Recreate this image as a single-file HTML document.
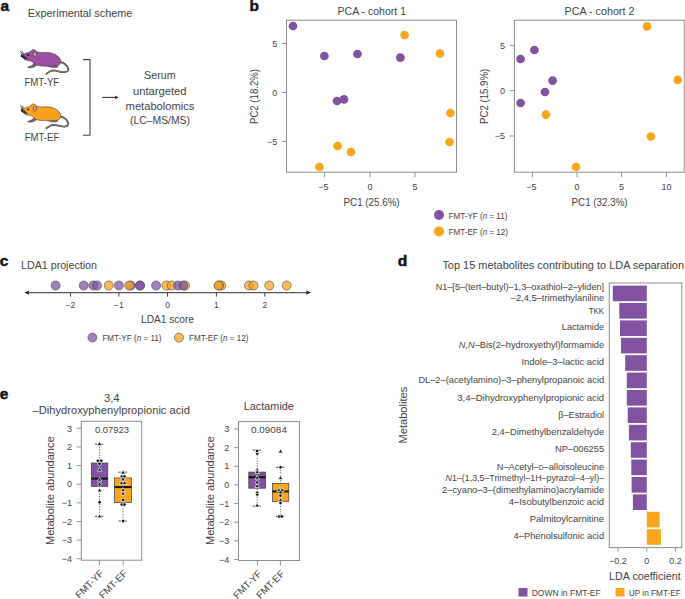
<!DOCTYPE html>
<html><head><meta charset="utf-8"><style>
html,body{margin:0;padding:0;background:#fff;}
body{width:685px;height:599px;overflow:hidden;}
svg{display:block;font-family:"Liberation Sans", sans-serif;}
</style></head><body>
<svg width="685" height="599" viewBox="0 0 685 599">
<text x="0.4" y="11" font-size="15.5" text-anchor="start" fill="#111" font-weight="bold" stroke="#111" stroke-width="0.45">a</text>
<text x="249.6" y="11" font-size="15.5" text-anchor="start" fill="#111" font-weight="bold" stroke="#111" stroke-width="0.45">b</text>
<text x="-0.3" y="265.8" font-size="15.5" text-anchor="start" fill="#111" font-weight="bold" stroke="#111" stroke-width="0.45">c</text>
<text x="397.8" y="266" font-size="15.5" text-anchor="start" fill="#111" font-weight="bold" stroke="#111" stroke-width="0.45">d</text>
<text x="-0.2" y="398.6" font-size="15.5" text-anchor="start" fill="#111" font-weight="bold" stroke="#111" stroke-width="0.45">e</text>
<text x="27.80" y="17.1" font-size="10.6" fill="#444444" textLength="104.61" lengthAdjust="spacingAndGlyphs" >Experimental scheme</text>
<g transform="translate(0,0)"><path d="M60.4,62.2 C63.5,62.8 66.8,65 68.1,68.2 C68.8,70.6 67.4,72 64.8,72.2 C61,72.4 57,70.6 53.5,70.4 C50.5,70.5 48.2,72.4 46.4,73.9" fill="none" stroke="#4a3f3b" stroke-width="1.8" stroke-linecap="round"/><path d="M60.4,62.2 C63.5,62.8 66.8,65 68.1,68.2 C68.8,70.6 67.4,72 64.8,72.2 C61,72.4 57,70.6 53.5,70.4 C50.5,70.5 48.2,72.4 46.4,73.9" fill="none" stroke="#8f807a" stroke-width="0.9" stroke-linecap="round"/><path d="M47.8,65.9 C50,67.4 53.5,68 57.6,67.2 L57.8,65.8 C54.5,66.6 51,66.6 47.8,65.9 Z" fill="#8f7f78" stroke="#2a2a2a" stroke-width="0.45"/><path d="M33.8,63.2 C33.2,64.8 31.6,65.9 29.6,66.3 L27.6,67.2 C29.8,68.3 33,67.8 35.2,66.4 L36.4,64.6 Z" fill="#76665f" stroke="#2a2a2a" stroke-width="0.45"/><path d="M21.3,55.4 C23,54.2 25.5,53.1 28.5,52.5 C30,51.8 31.3,50.4 32.6,49.7 C34.1,49.3 35.6,49.9 36.0,51.3 C37.5,52.4 40.5,52.6 44,52.5 C48,52.2 52,52.6 55.5,54.6 C58.6,56.4 60.8,58.6 60.9,61.4 C60.8,63.8 59,65.6 56,65.9 C52.5,66.4 48.5,66.5 44.5,66.2 C40.5,66.1 37,65.7 35,64.6 C33.6,62.6 32,61.2 29.6,60.7 C27,60.3 24.6,59.1 23,57.8 C21.9,57 21.2,56.3 21.3,55.4 Z" fill="#9b4ea2" stroke="#2a2a2a" stroke-width="0.5"/><path d="M33.3,53.2 C33.5,52.2 35.2,51.9 36.2,52.6 C36.8,53.6 36.6,55.6 35.6,56.5 C34.6,56.9 33.6,56.4 33.3,55.2 Z" fill="#c9a793" stroke="#3a2a2a" stroke-width="0.5"/><path d="M21,55 C22.2,54.6 24,55.4 25.8,57 C27.2,58.2 27.8,59.6 26.8,60 C25,59.7 23.4,58.7 22.4,57.8 C21.4,57.1 20.8,56.2 21,55 Z" fill="#2a1d26" opacity="0.8"/><circle cx="21.6" cy="56" r="0.9" fill="#111"/><circle cx="28.2" cy="55" r="0.95" fill="#111"/><path d="M22.8,54.6 L20.5,51.0 M23.3,54.4 L22.7,51.4 M22.2,55.0 L20.6,53.8" stroke="#2a2a2a" stroke-width="0.75" fill="none"/><path d="M24.5,59.2 L24.2,61 M26.3,60 L26.4,61.6 M28.2,60.6 L28.6,61.8" stroke="#555" stroke-width="0.4" fill="none"/></g>
<g transform="translate(0,54.4)"><path d="M60.4,62.2 C63.5,62.8 66.8,65 68.1,68.2 C68.8,70.6 67.4,72 64.8,72.2 C61,72.4 57,70.6 53.5,70.4 C50.5,70.5 48.2,72.4 46.4,73.9" fill="none" stroke="#4a3f3b" stroke-width="1.8" stroke-linecap="round"/><path d="M60.4,62.2 C63.5,62.8 66.8,65 68.1,68.2 C68.8,70.6 67.4,72 64.8,72.2 C61,72.4 57,70.6 53.5,70.4 C50.5,70.5 48.2,72.4 46.4,73.9" fill="none" stroke="#8f807a" stroke-width="0.9" stroke-linecap="round"/><path d="M47.8,65.9 C50,67.4 53.5,68 57.6,67.2 L57.8,65.8 C54.5,66.6 51,66.6 47.8,65.9 Z" fill="#8f7f78" stroke="#2a2a2a" stroke-width="0.45"/><path d="M33.8,63.2 C33.2,64.8 31.6,65.9 29.6,66.3 L27.6,67.2 C29.8,68.3 33,67.8 35.2,66.4 L36.4,64.6 Z" fill="#76665f" stroke="#2a2a2a" stroke-width="0.45"/><path d="M21.3,55.4 C23,54.2 25.5,53.1 28.5,52.5 C30,51.8 31.3,50.4 32.6,49.7 C34.1,49.3 35.6,49.9 36.0,51.3 C37.5,52.4 40.5,52.6 44,52.5 C48,52.2 52,52.6 55.5,54.6 C58.6,56.4 60.8,58.6 60.9,61.4 C60.8,63.8 59,65.6 56,65.9 C52.5,66.4 48.5,66.5 44.5,66.2 C40.5,66.1 37,65.7 35,64.6 C33.6,62.6 32,61.2 29.6,60.7 C27,60.3 24.6,59.1 23,57.8 C21.9,57 21.2,56.3 21.3,55.4 Z" fill="#f7a11f" stroke="#2a2a2a" stroke-width="0.5"/><path d="M33.3,53.2 C33.5,52.2 35.2,51.9 36.2,52.6 C36.8,53.6 36.6,55.6 35.6,56.5 C34.6,56.9 33.6,56.4 33.3,55.2 Z" fill="#c9a29a" stroke="#3a2a2a" stroke-width="0.5"/><path d="M21,55 C22.2,54.6 24,55.4 25.8,57 C27.2,58.2 27.8,59.6 26.8,60 C25,59.7 23.4,58.7 22.4,57.8 C21.4,57.1 20.8,56.2 21,55 Z" fill="#2a1d26" opacity="0.8"/><circle cx="21.6" cy="56" r="0.9" fill="#111"/><circle cx="28.2" cy="55" r="0.95" fill="#111"/><path d="M22.8,54.6 L20.5,51.0 M23.3,54.4 L22.7,51.4 M22.2,55.0 L20.6,53.8" stroke="#2a2a2a" stroke-width="0.75" fill="none"/><path d="M24.5,59.2 L24.2,61 M26.3,60 L26.4,61.6 M28.2,60.6 L28.6,61.8" stroke="#555" stroke-width="0.4" fill="none"/></g>
<text x="24.40" y="86.4" font-size="10.2" fill="#444444" textLength="34.81" lengthAdjust="spacingAndGlyphs" >FMT-YF</text>
<text x="24.80" y="140.7" font-size="10.2" fill="#444444" textLength="34.41" lengthAdjust="spacingAndGlyphs" >FMT-EF</text>
<path d="M83,59.6 H90.0 V135.2 H83" fill="none" stroke="#444" stroke-width="1.1" stroke-linejoin="round"/>
<line x1="102.4" y1="97.4" x2="116" y2="97.4" stroke="#222" stroke-width="1" />
<path d="M118.8,97.4 L114.6,95.5 L115.6,97.4 L114.6,99.3 Z" fill="#222"/>
<text x="144.00" y="79.4" font-size="10.6" fill="#444444" textLength="31.61" lengthAdjust="spacingAndGlyphs" >Serum</text>
<text x="133.00" y="94.6" font-size="10.6" fill="#444444" textLength="53.42" lengthAdjust="spacingAndGlyphs" >untargeted</text>
<text x="125.60" y="110" font-size="10.6" fill="#444444" textLength="68.79" lengthAdjust="spacingAndGlyphs" >metabolomics</text>
<text x="130.00" y="124.3" font-size="10.6" fill="#444444" textLength="59.99" lengthAdjust="spacingAndGlyphs" >(LC–MS/MS)</text>
<rect x="286.5" y="20.2" width="170.0" height="152.0" fill="none" stroke="#8c8c8c" stroke-width="1" />
<text x="337.60" y="15.3" font-size="10.6" fill="#444444" textLength="68.38" lengthAdjust="spacingAndGlyphs" >PCA - cohort 1</text>
<line x1="281.9" y1="43.4" x2="286.5" y2="43.4" stroke="#939393" stroke-width="1" />
<text x="277.2" y="46.8" font-size="9" text-anchor="end" fill="#444444" >5</text>
<line x1="281.9" y1="92.4" x2="286.5" y2="92.4" stroke="#939393" stroke-width="1" />
<text x="277.2" y="95.80000000000001" font-size="9" text-anchor="end" fill="#444444" >0</text>
<line x1="281.9" y1="141.4" x2="286.5" y2="141.4" stroke="#939393" stroke-width="1" />
<text x="277.2" y="144.8" font-size="9" text-anchor="end" fill="#444444" >−5</text>
<line x1="324.4" y1="172.2" x2="324.4" y2="177.2" stroke="#939393" stroke-width="1" />
<text x="323.4" y="189.5" font-size="9" text-anchor="middle" fill="#444444" >−5</text>
<line x1="370" y1="172.2" x2="370" y2="177.2" stroke="#939393" stroke-width="1" />
<text x="370" y="189.5" font-size="9" text-anchor="middle" fill="#444444" >0</text>
<line x1="415" y1="172.2" x2="415" y2="177.2" stroke="#939393" stroke-width="1" />
<text x="415" y="189.5" font-size="9" text-anchor="middle" fill="#444444" >5</text>
<text x="343.60" y="205.7" font-size="10" fill="#444444" textLength="56.00" lengthAdjust="spacingAndGlyphs" >PC1 (25.6%)</text>
<text x="-0.00" y="0" font-size="10" fill="#444444" textLength="55.00" lengthAdjust="spacingAndGlyphs" transform="translate(258.3,124) rotate(-90)">PC2 (18.2%)</text>
<circle cx="293" cy="26" r="4.35" fill="#8052a0" stroke="none" stroke-width="0" />
<circle cx="324.4" cy="56" r="4.35" fill="#8052a0" stroke="none" stroke-width="0" />
<circle cx="357.5" cy="54" r="4.35" fill="#8052a0" stroke="none" stroke-width="0" />
<circle cx="400.4" cy="57.6" r="4.35" fill="#8052a0" stroke="none" stroke-width="0" />
<circle cx="337" cy="101" r="4.35" fill="#8052a0" stroke="none" stroke-width="0" />
<circle cx="344" cy="99.4" r="4.35" fill="#8052a0" stroke="none" stroke-width="0" />
<circle cx="404.6" cy="35" r="4.35" fill="#faa51b" stroke="none" stroke-width="0" />
<circle cx="440" cy="53.6" r="4.35" fill="#faa51b" stroke="none" stroke-width="0" />
<circle cx="450.4" cy="113" r="4.35" fill="#faa51b" stroke="none" stroke-width="0" />
<circle cx="449.6" cy="142" r="4.35" fill="#faa51b" stroke="none" stroke-width="0" />
<circle cx="337.6" cy="146" r="4.35" fill="#faa51b" stroke="none" stroke-width="0" />
<circle cx="351" cy="152" r="4.35" fill="#faa51b" stroke="none" stroke-width="0" />
<circle cx="319.4" cy="167" r="4.35" fill="#faa51b" stroke="none" stroke-width="0" />
<rect x="514.4" y="20.2" width="169.89999999999998" height="152.0" fill="none" stroke="#8c8c8c" stroke-width="1" />
<text x="564.60" y="15.3" font-size="10.6" fill="#444444" textLength="69.78" lengthAdjust="spacingAndGlyphs" >PCA - cohort 2</text>
<line x1="509.79999999999995" y1="45.6" x2="514.4" y2="45.6" stroke="#939393" stroke-width="1" />
<text x="505.09999999999997" y="49.0" font-size="9" text-anchor="end" fill="#444444" >5</text>
<line x1="509.79999999999995" y1="90.6" x2="514.4" y2="90.6" stroke="#939393" stroke-width="1" />
<text x="505.09999999999997" y="94.0" font-size="9" text-anchor="end" fill="#444444" >0</text>
<line x1="509.79999999999995" y1="136" x2="514.4" y2="136" stroke="#939393" stroke-width="1" />
<text x="505.09999999999997" y="139.4" font-size="9" text-anchor="end" fill="#444444" >−5</text>
<line x1="532.4" y1="172.2" x2="532.4" y2="177.2" stroke="#939393" stroke-width="1" />
<text x="531.4" y="189.5" font-size="9" text-anchor="middle" fill="#444444" >−5</text>
<line x1="577" y1="172.2" x2="577" y2="177.2" stroke="#939393" stroke-width="1" />
<text x="577" y="189.5" font-size="9" text-anchor="middle" fill="#444444" >0</text>
<line x1="621.6" y1="172.2" x2="621.6" y2="177.2" stroke="#939393" stroke-width="1" />
<text x="621.6" y="189.5" font-size="9" text-anchor="middle" fill="#444444" >5</text>
<line x1="666.4" y1="172.2" x2="666.4" y2="177.2" stroke="#939393" stroke-width="1" />
<text x="666.4" y="189.5" font-size="9" text-anchor="middle" fill="#444444" >10</text>
<text x="571.60" y="205.7" font-size="10" fill="#444444" textLength="56.00" lengthAdjust="spacingAndGlyphs" >PC1 (32.3%)</text>
<text x="-0.00" y="0" font-size="10" fill="#444444" textLength="55.30" lengthAdjust="spacingAndGlyphs" transform="translate(488.3,124) rotate(-90)">PC2 (15.9%)</text>
<circle cx="534.4" cy="50" r="4.35" fill="#8052a0" stroke="none" stroke-width="0" />
<circle cx="520.6" cy="59" r="4.35" fill="#8052a0" stroke="none" stroke-width="0" />
<circle cx="552.6" cy="80.6" r="4.35" fill="#8052a0" stroke="none" stroke-width="0" />
<circle cx="545" cy="92" r="4.35" fill="#8052a0" stroke="none" stroke-width="0" />
<circle cx="520.6" cy="103" r="4.35" fill="#8052a0" stroke="none" stroke-width="0" />
<circle cx="647" cy="26.4" r="4.35" fill="#faa51b" stroke="none" stroke-width="0" />
<circle cx="677.8" cy="79.9" r="4.35" fill="#faa51b" stroke="none" stroke-width="0" />
<circle cx="546" cy="114.6" r="4.35" fill="#faa51b" stroke="none" stroke-width="0" />
<circle cx="650.9" cy="136.5" r="4.35" fill="#faa51b" stroke="none" stroke-width="0" />
<circle cx="576" cy="167" r="4.35" fill="#faa51b" stroke="none" stroke-width="0" />
<circle cx="439" cy="215" r="5" fill="#8052a0" stroke="none" stroke-width="0" />
<circle cx="439" cy="231.4" r="5" fill="#faa51b" stroke="none" stroke-width="0" />
<text x="448.60" y="218.6" font-size="8.8" fill="#444444" textLength="58.79" lengthAdjust="spacingAndGlyphs" >FMT-YF (<tspan font-style="italic">n</tspan> = 11)</text>
<text x="448.60" y="235" font-size="8.8" fill="#444444" textLength="59.38" lengthAdjust="spacingAndGlyphs" >FMT-EF (<tspan font-style="italic">n</tspan> = 12)</text>
<text x="21.00" y="269.4" font-size="10.6" fill="#444444" textLength="76.01" lengthAdjust="spacingAndGlyphs" >LDA1 projection</text>
<line x1="26" y1="292.6" x2="308.5" y2="292.6" stroke="#555" stroke-width="1.1" />
<path d="M24.3,292.6 L29.3,290.5 L28.4,292.6 L29.3,294.7 Z" fill="#1e1e1e"/>
<path d="M311,292.6 L306,290.5 L306.9,292.6 L306,294.7 Z" fill="#1e1e1e"/>
<line x1="70.5" y1="292.6" x2="70.5" y2="296.6" stroke="#444" stroke-width="1" />
<text x="70.5" y="307.6" font-size="8.4" text-anchor="middle" fill="#444444" >−2</text>
<line x1="118.9" y1="292.6" x2="118.9" y2="296.6" stroke="#444" stroke-width="1" />
<text x="118.9" y="307.6" font-size="8.4" text-anchor="middle" fill="#444444" >−1</text>
<line x1="167.5" y1="292.6" x2="167.5" y2="296.6" stroke="#444" stroke-width="1" />
<text x="167.5" y="307.6" font-size="8.4" text-anchor="middle" fill="#444444" >0</text>
<line x1="216.4" y1="292.6" x2="216.4" y2="296.6" stroke="#444" stroke-width="1" />
<text x="216.4" y="307.6" font-size="8.4" text-anchor="middle" fill="#444444" >1</text>
<line x1="264.8" y1="292.6" x2="264.8" y2="296.6" stroke="#444" stroke-width="1" />
<text x="264.8" y="307.6" font-size="8.4" text-anchor="middle" fill="#444444" >2</text>
<text x="141.00" y="323" font-size="10.4" fill="#444444" textLength="53.00" lengthAdjust="spacingAndGlyphs" >LDA1 score</text>
<circle cx="55.6" cy="285.5" r="4.5" fill="rgba(126,79,159,0.72)" stroke="rgba(70,70,70,0.85)" stroke-width="0.7" />
<circle cx="83.7" cy="285.5" r="4.5" fill="rgba(126,79,159,0.72)" stroke="rgba(70,70,70,0.85)" stroke-width="0.7" />
<circle cx="93.4" cy="285.5" r="4.5" fill="rgba(126,79,159,0.72)" stroke="rgba(70,70,70,0.85)" stroke-width="0.7" />
<circle cx="97" cy="285.5" r="4.5" fill="rgba(126,79,159,0.72)" stroke="rgba(70,70,70,0.85)" stroke-width="0.7" />
<circle cx="108.7" cy="285.5" r="4.5" fill="rgba(248,162,28,0.72)" stroke="rgba(70,70,70,0.85)" stroke-width="0.7" />
<circle cx="118.9" cy="285.5" r="4.5" fill="rgba(126,79,159,0.72)" stroke="rgba(70,70,70,0.85)" stroke-width="0.7" />
<circle cx="130.7" cy="285.5" r="4.5" fill="rgba(126,79,159,0.72)" stroke="rgba(70,70,70,0.85)" stroke-width="0.7" />
<circle cx="129.2" cy="285.5" r="4.5" fill="rgba(248,162,28,0.72)" stroke="rgba(70,70,70,0.85)" stroke-width="0.7" />
<circle cx="139.9" cy="285.5" r="4.5" fill="rgba(126,79,159,0.72)" stroke="rgba(70,70,70,0.85)" stroke-width="0.7" />
<circle cx="140.1" cy="285.5" r="4.5" fill="rgba(126,79,159,0.72)" stroke="rgba(70,70,70,0.85)" stroke-width="0.7" />
<circle cx="156.1" cy="285.5" r="4.5" fill="rgba(126,79,159,0.72)" stroke="rgba(70,70,70,0.85)" stroke-width="0.7" />
<circle cx="166.4" cy="285.5" r="4.5" fill="rgba(248,162,28,0.72)" stroke="rgba(70,70,70,0.85)" stroke-width="0.7" />
<circle cx="171.6" cy="285.5" r="4.5" fill="rgba(248,162,28,0.72)" stroke="rgba(70,70,70,0.85)" stroke-width="0.7" />
<circle cx="178" cy="285.5" r="4.5" fill="rgba(126,79,159,0.72)" stroke="rgba(70,70,70,0.85)" stroke-width="0.7" />
<circle cx="185" cy="285.5" r="4.5" fill="rgba(248,162,28,0.72)" stroke="rgba(70,70,70,0.85)" stroke-width="0.7" />
<circle cx="183.3" cy="285.5" r="4.5" fill="rgba(126,79,159,0.72)" stroke="rgba(70,70,70,0.85)" stroke-width="0.7" />
<circle cx="221.2" cy="285.5" r="4.5" fill="rgba(248,162,28,0.72)" stroke="rgba(70,70,70,0.85)" stroke-width="0.7" />
<circle cx="218.9" cy="285.5" r="4.5" fill="rgba(248,162,28,0.72)" stroke="rgba(70,70,70,0.85)" stroke-width="0.7" />
<circle cx="218.6" cy="285.5" r="4.5" fill="rgba(248,162,28,0.72)" stroke="rgba(70,70,70,0.85)" stroke-width="0.7" />
<circle cx="249" cy="285.5" r="4.5" fill="rgba(248,162,28,0.72)" stroke="rgba(70,70,70,0.85)" stroke-width="0.7" />
<circle cx="253.5" cy="285.5" r="4.5" fill="rgba(248,162,28,0.72)" stroke="rgba(70,70,70,0.85)" stroke-width="0.7" />
<circle cx="269.3" cy="285.5" r="4.5" fill="rgba(248,162,28,0.72)" stroke="rgba(70,70,70,0.85)" stroke-width="0.7" />
<circle cx="286.7" cy="285.5" r="4.5" fill="rgba(248,162,28,0.72)" stroke="rgba(70,70,70,0.85)" stroke-width="0.7" />
<circle cx="92.4" cy="337.6" r="4.5" fill="rgba(126,79,159,0.72)" stroke="rgba(70,70,70,0.85)" stroke-width="0.7" />
<circle cx="179" cy="337.6" r="4.5" fill="rgba(248,162,28,0.72)" stroke="rgba(70,70,70,0.85)" stroke-width="0.7" />
<text x="102.40" y="341" font-size="8.8" fill="#444444" textLength="59.19" lengthAdjust="spacingAndGlyphs" >FMT-YF (<tspan font-style="italic">n</tspan> = 11)</text>
<text x="189.00" y="341" font-size="8.8" fill="#444444" textLength="59.38" lengthAdjust="spacingAndGlyphs" >FMT-EF (<tspan font-style="italic">n</tspan> = 12)</text>
<text x="104.00" y="401.6" font-size="10.8" fill="#444444" textLength="15.60" lengthAdjust="spacingAndGlyphs" >3,4</text>
<text x="32.60" y="413.6" font-size="10.8" fill="#444444" textLength="157.40" lengthAdjust="spacingAndGlyphs" >–Dihydroxyphenylpropionic acid</text>
<rect x="81.3" y="421.3" width="60.39999999999999" height="138.90000000000003" fill="none" stroke="#8c8c8c" stroke-width="1" />
<line x1="76.8" y1="428.3" x2="81.3" y2="428.3" stroke="#939393" stroke-width="1" />
<text x="72.1" y="431.5" font-size="9" text-anchor="end" fill="#444444" >3</text>
<line x1="76.8" y1="446.94" x2="81.3" y2="446.94" stroke="#939393" stroke-width="1" />
<text x="72.1" y="450.14" font-size="9" text-anchor="end" fill="#444444" >2</text>
<line x1="76.8" y1="465.58000000000004" x2="81.3" y2="465.58000000000004" stroke="#939393" stroke-width="1" />
<text x="72.1" y="468.78000000000003" font-size="9" text-anchor="end" fill="#444444" >1</text>
<line x1="76.8" y1="484.22" x2="81.3" y2="484.22" stroke="#939393" stroke-width="1" />
<text x="72.1" y="487.42" font-size="9" text-anchor="end" fill="#444444" >0</text>
<line x1="76.8" y1="502.86" x2="81.3" y2="502.86" stroke="#939393" stroke-width="1" />
<text x="72.1" y="506.06" font-size="9" text-anchor="end" fill="#444444" >−1</text>
<line x1="76.8" y1="521.5" x2="81.3" y2="521.5" stroke="#939393" stroke-width="1" />
<text x="72.1" y="524.7" font-size="9" text-anchor="end" fill="#444444" >−2</text>
<line x1="76.8" y1="540.14" x2="81.3" y2="540.14" stroke="#939393" stroke-width="1" />
<text x="72.1" y="543.34" font-size="9" text-anchor="end" fill="#444444" >−3</text>
<line x1="76.8" y1="558.78" x2="81.3" y2="558.78" stroke="#939393" stroke-width="1" />
<text x="72.1" y="561.98" font-size="9" text-anchor="end" fill="#444444" >−4</text>
<text x="95.00" y="433.3" font-size="9.6" fill="#444444" textLength="34.00" lengthAdjust="spacingAndGlyphs" >0.07923</text>
<text x="-0.00" y="0" font-size="10.8" fill="#444444" textLength="108.61" lengthAdjust="spacingAndGlyphs" transform="translate(54.3,545) rotate(-90)">Metabolite abundance</text>
<line x1="99.55" y1="444.2" x2="99.55" y2="516.3" stroke="#222" stroke-width="0.8" stroke-dasharray="1,1.6"/>
<line x1="95.05" y1="444.2" x2="104.05" y2="444.2" stroke="#222" stroke-width="0.85" stroke-dasharray="2.2,0.8"/>
<line x1="95.05" y1="516.3" x2="104.05" y2="516.3" stroke="#222" stroke-width="0.85" stroke-dasharray="2.2,0.8"/>
<rect x="91.3" y="463" width="16.5" height="23.399999999999977" fill="#8052a0" stroke="#3a3a3a" stroke-width="0.7" />
<line x1="91.3" y1="478.6" x2="107.8" y2="478.6" stroke="#111" stroke-width="2" />
<line x1="123.0" y1="472.2" x2="123.0" y2="521" stroke="#222" stroke-width="0.8" stroke-dasharray="1,1.6"/>
<line x1="118.5" y1="472.2" x2="127.5" y2="472.2" stroke="#222" stroke-width="0.85" stroke-dasharray="2.2,0.8"/>
<line x1="118.5" y1="521" x2="127.5" y2="521" stroke="#222" stroke-width="0.85" stroke-dasharray="2.2,0.8"/>
<rect x="114.6" y="477.9" width="16.80000000000001" height="24.600000000000023" fill="#faa51b" stroke="#3a3a3a" stroke-width="0.7" />
<line x1="114.6" y1="487.1" x2="131.4" y2="487.1" stroke="#111" stroke-width="2" />
<path d="M99.5,441.5 L101.8,445.40000000000003 L97.2,445.40000000000003 Z" fill="#111" stroke="#fff" stroke-width="0.7"/>
<circle cx="97.9" cy="460.8" r="1.75" fill="#111" stroke="#fff" stroke-width="0.7" />
<circle cx="101.2" cy="460.8" r="1.75" fill="#111" stroke="#fff" stroke-width="0.7" />
<circle cx="99.6" cy="463.8" r="1.75" fill="#111" stroke="#fff" stroke-width="0.7" />
<path d="M99.6,467.3 L101.89999999999999,471.20000000000005 L97.3,471.20000000000005 Z" fill="#111" stroke="#fff" stroke-width="0.7"/>
<path d="M99.6,477.3 L101.89999999999999,481.20000000000005 L97.3,481.20000000000005 Z" fill="#111" stroke="#fff" stroke-width="0.7"/>
<circle cx="99.6" cy="484.5" r="1.75" fill="#111" stroke="#fff" stroke-width="0.7" />
<path d="M99.6,488.0 L101.89999999999999,491.90000000000003 L97.3,491.90000000000003 Z" fill="#111" stroke="#fff" stroke-width="0.7"/>
<circle cx="99.6" cy="502.2" r="1.75" fill="#111" stroke="#fff" stroke-width="0.7" />
<path d="M99.6,513.9000000000001 L101.89999999999999,517.8000000000001 L97.3,517.8000000000001 Z" fill="#111" stroke="#fff" stroke-width="0.7"/>
<path d="M123.1,470.09999999999997 L125.39999999999999,474.0 L120.8,474.0 Z" fill="#111" stroke="#fff" stroke-width="0.7"/>
<circle cx="121.9" cy="476.5" r="1.75" fill="#111" stroke="#fff" stroke-width="0.7" />
<circle cx="124.5" cy="476.5" r="1.75" fill="#111" stroke="#fff" stroke-width="0.7" />
<path d="M123.1,482.0 L125.39999999999999,478.09999999999997 L120.8,478.09999999999997 Z" fill="#111" stroke="#fff" stroke-width="0.7"/>
<path d="M121.6,480.59999999999997 L123.89999999999999,484.5 L119.3,484.5 Z" fill="#111" stroke="#fff" stroke-width="0.7"/>
<path d="M124.6,480.59999999999997 L126.89999999999999,484.5 L122.3,484.5 Z" fill="#111" stroke="#fff" stroke-width="0.7"/>
<path d="M123.1,487.7 L125.39999999999999,491.6 L120.8,491.6 Z" fill="#111" stroke="#fff" stroke-width="0.7"/>
<path d="M123.1,491.09999999999997 L125.39999999999999,495.0 L120.8,495.0 Z" fill="#111" stroke="#fff" stroke-width="0.7"/>
<circle cx="123.1" cy="499.9" r="1.75" fill="#111" stroke="#fff" stroke-width="0.7" />
<circle cx="121.9" cy="504.5" r="1.75" fill="#111" stroke="#fff" stroke-width="0.7" />
<circle cx="124.5" cy="504.5" r="1.75" fill="#111" stroke="#fff" stroke-width="0.7" />
<circle cx="123.1" cy="521" r="1.75" fill="#111" stroke="#fff" stroke-width="0.7" />
<line x1="99.4" y1="560.2" x2="99.4" y2="565.2" stroke="#939393" stroke-width="1" />
<text x="0" y="0" font-size="9.8" text-anchor="end" fill="#444444" transform="translate(104.2,574.0) rotate(-45)">FMT-YF</text>
<line x1="123.2" y1="560.2" x2="123.2" y2="565.2" stroke="#939393" stroke-width="1" />
<text x="0" y="0" font-size="9.8" text-anchor="end" fill="#444444" transform="translate(128.0,574.0) rotate(-45)">FMT-EF</text>
<text x="243.80" y="410" font-size="10.6" fill="#444444" textLength="50.09" lengthAdjust="spacingAndGlyphs" >Lactamide</text>
<rect x="238.5" y="421.6" width="60.89999999999998" height="138.89999999999998" fill="none" stroke="#8c8c8c" stroke-width="1" />
<line x1="234.0" y1="429.0" x2="238.5" y2="429.0" stroke="#939393" stroke-width="1" />
<text x="229.3" y="432.2" font-size="9" text-anchor="end" fill="#444444" >3</text>
<line x1="234.0" y1="447.64" x2="238.5" y2="447.64" stroke="#939393" stroke-width="1" />
<text x="229.3" y="450.84" font-size="9" text-anchor="end" fill="#444444" >2</text>
<line x1="234.0" y1="466.28" x2="238.5" y2="466.28" stroke="#939393" stroke-width="1" />
<text x="229.3" y="469.47999999999996" font-size="9" text-anchor="end" fill="#444444" >1</text>
<line x1="234.0" y1="484.92" x2="238.5" y2="484.92" stroke="#939393" stroke-width="1" />
<text x="229.3" y="488.12" font-size="9" text-anchor="end" fill="#444444" >0</text>
<line x1="234.0" y1="503.56" x2="238.5" y2="503.56" stroke="#939393" stroke-width="1" />
<text x="229.3" y="506.76" font-size="9" text-anchor="end" fill="#444444" >−1</text>
<line x1="234.0" y1="522.2" x2="238.5" y2="522.2" stroke="#939393" stroke-width="1" />
<text x="229.3" y="525.4000000000001" font-size="9" text-anchor="end" fill="#444444" >−2</text>
<line x1="234.0" y1="540.84" x2="238.5" y2="540.84" stroke="#939393" stroke-width="1" />
<text x="229.3" y="544.0400000000001" font-size="9" text-anchor="end" fill="#444444" >−3</text>
<line x1="234.0" y1="559.48" x2="238.5" y2="559.48" stroke="#939393" stroke-width="1" />
<text x="229.3" y="562.6800000000001" font-size="9" text-anchor="end" fill="#444444" >−4</text>
<text x="251.10" y="433.3" font-size="9.6" fill="#444444" textLength="35.80" lengthAdjust="spacingAndGlyphs" >0.09084</text>
<text x="-0.00" y="0" font-size="10.8" fill="#444444" textLength="108.61" lengthAdjust="spacingAndGlyphs" transform="translate(213.6,545) rotate(-90)">Metabolite abundance</text>
<line x1="257.20000000000005" y1="450.1" x2="257.20000000000005" y2="506.2" stroke="#222" stroke-width="0.8" stroke-dasharray="1,1.6"/>
<line x1="252.70000000000005" y1="450.1" x2="261.70000000000005" y2="450.1" stroke="#222" stroke-width="0.85" stroke-dasharray="2.2,0.8"/>
<line x1="252.70000000000005" y1="506.2" x2="261.70000000000005" y2="506.2" stroke="#222" stroke-width="0.85" stroke-dasharray="2.2,0.8"/>
<rect x="248.8" y="472.1" width="16.80000000000001" height="16.099999999999966" fill="#8052a0" stroke="#3a3a3a" stroke-width="0.7" />
<line x1="248.8" y1="477.3" x2="265.6" y2="477.3" stroke="#111" stroke-width="2" />
<line x1="280.65" y1="467.2" x2="280.65" y2="516.4" stroke="#222" stroke-width="0.8" stroke-dasharray="1,1.6"/>
<line x1="276.15" y1="467.2" x2="285.15" y2="467.2" stroke="#222" stroke-width="0.85" stroke-dasharray="2.2,0.8"/>
<line x1="276.15" y1="516.4" x2="285.15" y2="516.4" stroke="#222" stroke-width="0.85" stroke-dasharray="2.2,0.8"/>
<rect x="272.5" y="483.5" width="16.30000000000001" height="17.899999999999977" fill="#faa51b" stroke="#3a3a3a" stroke-width="0.7" />
<line x1="272.5" y1="491.4" x2="288.8" y2="491.4" stroke="#111" stroke-width="2" />
<circle cx="257.2" cy="451" r="1.75" fill="#111" stroke="#fff" stroke-width="0.7" />
<path d="M257.2,456.5 L259.5,452.59999999999997 L254.89999999999998,452.59999999999997 Z" fill="#111" stroke="#fff" stroke-width="0.7"/>
<path d="M257.2,467.2 L259.5,471.1 L254.89999999999998,471.1 Z" fill="#111" stroke="#fff" stroke-width="0.7"/>
<path d="M257.2,469.5 L259.5,473.40000000000003 L254.89999999999998,473.40000000000003 Z" fill="#111" stroke="#fff" stroke-width="0.7"/>
<path d="M257.2,475.3 L259.5,479.20000000000005 L254.89999999999998,479.20000000000005 Z" fill="#111" stroke="#fff" stroke-width="0.7"/>
<circle cx="257.2" cy="482.5" r="1.75" fill="#111" stroke="#fff" stroke-width="0.7" />
<path d="M257.2,483.5 L259.5,487.40000000000003 L254.89999999999998,487.40000000000003 Z" fill="#111" stroke="#fff" stroke-width="0.7"/>
<circle cx="257.2" cy="492.8" r="1.75" fill="#111" stroke="#fff" stroke-width="0.7" />
<path d="M257.2,497.3 L259.5,493.4 L254.89999999999998,493.4 Z" fill="#111" stroke="#fff" stroke-width="0.7"/>
<path d="M257.2,503.0 L259.5,506.90000000000003 L254.89999999999998,506.90000000000003 Z" fill="#111" stroke="#fff" stroke-width="0.7"/>
<path d="M280.5,449.0 L282.8,452.90000000000003 L278.2,452.90000000000003 Z" fill="#111" stroke="#fff" stroke-width="0.7"/>
<circle cx="280.5" cy="467.3" r="1.75" fill="#111" stroke="#fff" stroke-width="0.7" />
<path d="M280.5,475.5 L282.8,479.40000000000003 L278.2,479.40000000000003 Z" fill="#111" stroke="#fff" stroke-width="0.7"/>
<path d="M279,487.5 L281.3,491.40000000000003 L276.7,491.40000000000003 Z" fill="#111" stroke="#fff" stroke-width="0.7"/>
<path d="M282,487.5 L284.3,491.40000000000003 L279.7,491.40000000000003 Z" fill="#111" stroke="#fff" stroke-width="0.7"/>
<circle cx="280.5" cy="492.5" r="1.75" fill="#111" stroke="#fff" stroke-width="0.7" />
<circle cx="280.5" cy="495.6" r="1.75" fill="#111" stroke="#fff" stroke-width="0.7" />
<path d="M280.5,497.7 L282.8,501.6 L278.2,501.6 Z" fill="#111" stroke="#fff" stroke-width="0.7"/>
<circle cx="280.5" cy="503" r="1.75" fill="#111" stroke="#fff" stroke-width="0.7" />
<circle cx="279.2" cy="516.5" r="1.75" fill="#111" stroke="#fff" stroke-width="0.7" />
<circle cx="281.8" cy="516.5" r="1.75" fill="#111" stroke="#fff" stroke-width="0.7" />
<line x1="257.5" y1="560.5" x2="257.5" y2="565.5" stroke="#939393" stroke-width="1" />
<text x="0" y="0" font-size="9.8" text-anchor="end" fill="#444444" transform="translate(262.3,574.3) rotate(-45)">FMT-YF</text>
<line x1="280.4" y1="560.5" x2="280.4" y2="565.5" stroke="#939393" stroke-width="1" />
<text x="0" y="0" font-size="9.8" text-anchor="end" fill="#444444" transform="translate(285.2,574.3) rotate(-45)">FMT-EF</text>
<text x="442.40" y="269.4" font-size="10.6" fill="#444444" textLength="241.60" lengthAdjust="spacingAndGlyphs" >Top 15 metabolites contributing to LDA separation</text>
<rect x="609.3" y="283.0" width="72.5" height="264.6" fill="none" stroke="#8c8c8c" stroke-width="1" />
<rect x="612.8" y="285.6" width="34.0" height="15.6" fill="#8052a0" stroke="none" stroke-width="0" />
<rect x="619.3" y="303.0" width="27.5" height="15.6" fill="#8052a0" stroke="none" stroke-width="0" />
<rect x="620" y="320.40000000000003" width="26.799999999999955" height="15.6" fill="#8052a0" stroke="none" stroke-width="0" />
<rect x="621" y="337.8" width="25.799999999999955" height="15.6" fill="#8052a0" stroke="none" stroke-width="0" />
<rect x="625.2" y="355.20000000000005" width="21.59999999999991" height="15.6" fill="#8052a0" stroke="none" stroke-width="0" />
<rect x="626.8" y="372.6" width="20.0" height="15.6" fill="#8052a0" stroke="none" stroke-width="0" />
<rect x="626.8" y="390.0" width="20.0" height="15.6" fill="#8052a0" stroke="none" stroke-width="0" />
<rect x="627.7" y="407.4" width="19.09999999999991" height="15.6" fill="#8052a0" stroke="none" stroke-width="0" />
<rect x="628.9" y="424.8" width="17.899999999999977" height="15.6" fill="#8052a0" stroke="none" stroke-width="0" />
<rect x="630.8" y="442.20000000000005" width="16.0" height="15.6" fill="#8052a0" stroke="none" stroke-width="0" />
<rect x="631.3" y="459.6" width="15.5" height="15.6" fill="#8052a0" stroke="none" stroke-width="0" />
<rect x="631.6" y="477.0" width="15.199999999999932" height="15.6" fill="#8052a0" stroke="none" stroke-width="0" />
<rect x="632.9" y="494.4" width="13.899999999999977" height="15.6" fill="#8052a0" stroke="none" stroke-width="0" />
<rect x="646.8" y="511.8" width="12.800000000000068" height="15.6" fill="#faa51b" stroke="none" stroke-width="0" />
<rect x="646.8" y="529.2" width="14.100000000000023" height="15.6" fill="#faa51b" stroke="none" stroke-width="0" />
<line x1="618" y1="547.5" x2="618" y2="551.5" stroke="#939393" stroke-width="1" />
<text x="618" y="563.6" font-size="9" text-anchor="middle" fill="#444444" >−0.2</text>
<line x1="646.8" y1="547.5" x2="646.8" y2="551.5" stroke="#939393" stroke-width="1" />
<text x="646.8" y="563.6" font-size="9" text-anchor="middle" fill="#444444" >0</text>
<line x1="675.4" y1="547.5" x2="675.4" y2="551.5" stroke="#939393" stroke-width="1" />
<text x="675.4" y="563.6" font-size="9" text-anchor="middle" fill="#444444" >0.2</text>
<text x="609.10" y="580" font-size="10.6" fill="#444444" textLength="71.57" lengthAdjust="spacingAndGlyphs" >LDA coefficient</text>
<text x="-0.00" y="0" font-size="10.8" fill="#444444" textLength="56.79" lengthAdjust="spacingAndGlyphs" transform="translate(407.0,443.5) rotate(-90)">Metabolites</text>
<text x="435.70" y="290.2" font-size="9.6" fill="#444444" textLength="168.38" lengthAdjust="spacingAndGlyphs" >N1–[5–(tert–butyl)–1,3–oxathiol–2–yliden]</text>
<text x="510.70" y="301.0" font-size="9.6" fill="#444444" textLength="93.41" lengthAdjust="spacingAndGlyphs" >–2,4,5–trimethylaniline</text>
<text x="588.80" y="313.7" font-size="9.6" fill="#444444" textLength="15.30" lengthAdjust="spacingAndGlyphs" >TKK</text>
<text x="561.80" y="330.4" font-size="9.6" fill="#444444" textLength="42.29" lengthAdjust="spacingAndGlyphs" >Lactamide</text>
<text x="458.80" y="347.8" font-size="9.6" fill="#444444" textLength="145.29" lengthAdjust="spacingAndGlyphs" ><tspan font-style="italic">N,N</tspan>–Bis(2–hydroxyethyl)formamide</text>
<text x="521.50" y="365.3" font-size="9.6" fill="#444444" textLength="82.59" lengthAdjust="spacingAndGlyphs" >Indole–3–lactic acid</text>
<text x="418.40" y="383.1" font-size="9.6" fill="#444444" textLength="185.69" lengthAdjust="spacingAndGlyphs" >DL–2–(acetylamino)–3–phenylpropanoic acid</text>
<text x="457.30" y="400.6" font-size="9.6" fill="#444444" textLength="146.80" lengthAdjust="spacingAndGlyphs" >3,4–Dihydroxyphenylpropionic acid</text>
<text x="558.30" y="417.8" font-size="9.6" fill="#444444" textLength="45.82" lengthAdjust="spacingAndGlyphs" >β–Estradiol</text>
<text x="491.80" y="434.9" font-size="9.6" fill="#444444" textLength="112.29" lengthAdjust="spacingAndGlyphs" >2,4–Dimethylbenzaldehyde</text>
<text x="555.10" y="452.0" font-size="9.6" fill="#444444" textLength="49.02" lengthAdjust="spacingAndGlyphs" >NP–006255</text>
<text x="496.70" y="470.2" font-size="9.6" fill="#444444" textLength="107.40" lengthAdjust="spacingAndGlyphs" >N–Acetyl–<tspan font-size="7">D</tspan>–alloisoleucine</text>
<text x="445.60" y="481.4" font-size="9.6" fill="#444444" textLength="158.47" lengthAdjust="spacingAndGlyphs" ><tspan font-style="italic">N</tspan>1–(1,3,5–Trimethyl–1H–pyrazol–4–yl)–</text>
<text x="442.10" y="493.0" font-size="9.6" fill="#444444" textLength="161.98" lengthAdjust="spacingAndGlyphs" >2–cyano–3–(dimethylamino)acrylamide</text>
<text x="508.70" y="504.6" font-size="9.6" fill="#444444" textLength="95.38" lengthAdjust="spacingAndGlyphs" >4–Isobutylbenzoic acid</text>
<text x="529.70" y="521.7" font-size="9.6" fill="#444444" textLength="74.42" lengthAdjust="spacingAndGlyphs" >Palmitoylcarnitine</text>
<text x="513.60" y="539.1" font-size="9.6" fill="#444444" textLength="90.49" lengthAdjust="spacingAndGlyphs" >4–Phenolsulfonic acid</text>
<rect x="518.5" y="588" width="9" height="8.5" fill="#8052a0" stroke="none" stroke-width="0" />
<rect x="615.5" y="588" width="9" height="8.5" fill="#faa51b" stroke="none" stroke-width="0" />
<text x="531.70" y="595.6" font-size="9" fill="#444444" textLength="69.00" lengthAdjust="spacingAndGlyphs" >DOWN in FMT-EF</text>
<text x="628.80" y="595.6" font-size="9" fill="#444444" textLength="51.91" lengthAdjust="spacingAndGlyphs" >UP in FMT-EF</text>
</svg>
</body></html>
